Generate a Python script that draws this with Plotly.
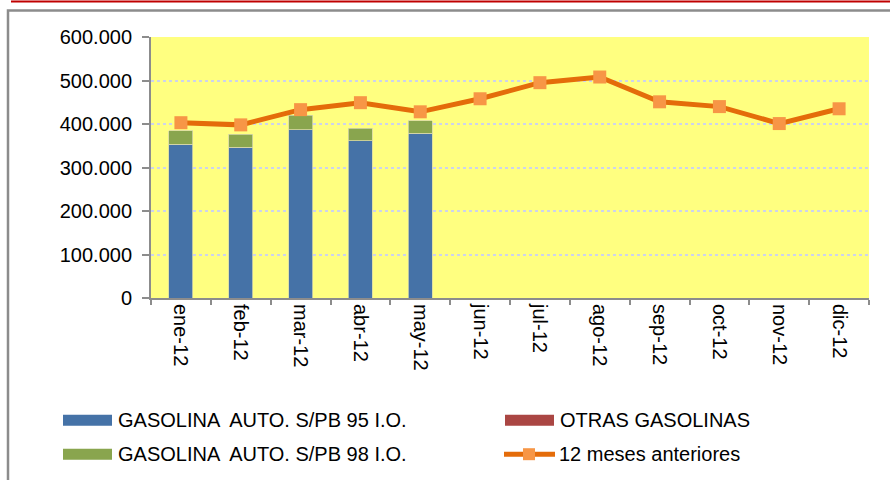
import plotly.graph_objects as go

# Monthly sales data (m3), 2012 vs previous 12 months
months = ["ene-12", "feb-12", "mar-12", "abr-12", "may-12", "jun-12",
          "jul-12", "ago-12", "sep-12", "oct-12", "nov-12", "dic-12"]
gasolina_95 = [354000, 347000, 387000, 361000, 379000]
gasolina_98 = [31000, 29000, 33000, 29000, 29000]
otras_gasolinas = [0, 0, 0, 0, 0]
meses_anteriores = [403000, 398000, 433000, 449000, 428000, 458000,
                    495000, 508000, 451000, 440000, 401000, 435000]

y_ticks = [0, 100000, 200000, 300000, 400000, 500000, 600000]

C_95 = "#4572A7"
C_98 = "#89A54E"
C_OTRAS = "#AA4643"
C_LINE = "#E46C0A"
C_MARK = "#F79646"
FONT = "Liberation Sans, Arial, sans-serif"
FS = 20

# plot area in pixels
W, H = 890, 480
PL, PR, PT, PB = 151, 869, 36.5, 298

fig = go.Figure()
bar_line = dict(color="#D8D8A8", width=0.8)
fig.add_trace(go.Bar(x=months[:len(gasolina_95)], y=gasolina_95,
                     marker=dict(color=C_95, line=bar_line),
                     name="GASOLINA  AUTO. S/PB 95 I.O."))
fig.add_trace(go.Bar(x=months[:len(otras_gasolinas)], y=otras_gasolinas,
                     marker=dict(color=C_OTRAS, line=dict(width=0)),
                     name="OTRAS GASOLINAS"))
fig.add_trace(go.Bar(x=months[:len(gasolina_98)], y=gasolina_98,
                     marker=dict(color=C_98, line=bar_line),
                     name="GASOLINA  AUTO. S/PB 98 I.O."))
fig.add_trace(go.Scatter(x=months, y=meses_anteriores, mode="lines+markers",
                         line=dict(color=C_LINE, width=5),
                         marker=dict(symbol="square", size=13, color=C_MARK),
                         name="12 meses anteriores"))

fig.update_layout(
    width=W, height=H,
    margin=dict(l=PL, r=W - PR, t=PT, b=H - PB, pad=0),
    barmode="stack", bargap=0.6,
    plot_bgcolor="#FFFF80", paper_bgcolor="white",
    showlegend=False,
    separators=",.",
    font=dict(family=FONT, size=FS, color="#000000"),
)
fig.update_xaxes(
    type="category", categoryorder="array", categoryarray=months,
    range=[-0.5, len(months) - 0.5],
    showline=True, linecolor="#8C8C8C", linewidth=2,
    ticks="outside", tickson="boundaries", ticklen=5, tickcolor="#8C8C8C", tickwidth=1.5,
    tickangle=90, showgrid=False,
    tickfont=dict(family=FONT, size=FS),
)
fig.update_yaxes(
    range=[0, 600000], tickvals=y_ticks, tickformat=",.0f",
    showline=True, linecolor="#8C8C8C", linewidth=2,
    ticks="outside", ticklen=7, tickcolor="#8C8C8C", tickwidth=1.5,
    showgrid=True, gridcolor="#CDD3EC", gridwidth=2, griddash="dot",
    zeroline=False, ticklabelstandoff=6,
    tickfont=dict(family=FONT, size=FS),
)


def px_x(p):
    return (p - PL) / (PR - PL)


def px_y(p):
    return (PB - p) / (PB - PT)


shapes = []
annotations = []

# outer frame and top rule
shapes.append(dict(type="rect", xref="paper", yref="paper",
                   x0=px_x(8), x1=px_x(W + 10), y0=px_y(H + 10), y1=px_y(10),
                   line=dict(color="#8C8C8C", width=2.5), fillcolor="rgba(0,0,0,0)", layer="below"))
shapes.append(dict(type="line", xref="paper", yref="paper",
                   x0=px_x(11), x1=px_x(W), y0=px_y(1), y1=px_y(1),
                   line=dict(color="#C00000", width=2)))

# legend
legend_items = [
    ("bar", C_95, "GASOLINA  AUTO. S/PB 95 I.O.", 63, 420.5),
    ("bar", C_OTRAS, "OTRAS GASOLINAS", 505, 420.5),
    ("bar", C_98, "GASOLINA  AUTO. S/PB 98 I.O.", 63, 454.5),
    ("line", C_LINE, "12 meses anteriores", 504, 454.5),
]
for kind, color, label, x0, yc in legend_items:
    if kind == "bar":
        shapes.append(dict(type="rect", xref="paper", yref="paper",
                           x0=px_x(x0), x1=px_x(x0 + 49), y0=px_y(yc + 5.5), y1=px_y(yc - 5.5),
                           line=dict(width=0), fillcolor=color))
    else:
        shapes.append(dict(type="line", xref="paper", yref="paper",
                           x0=px_x(x0), x1=px_x(x0 + 51), y0=px_y(yc), y1=px_y(yc),
                           line=dict(color=C_LINE, width=5)))
        shapes.append(dict(type="rect", xref="paper", yref="paper",
                           x0=px_x(x0 + 19), x1=px_x(x0 + 31), y0=px_y(yc + 6), y1=px_y(yc - 6),
                           line=dict(width=0), fillcolor=C_MARK))
    annotations.append(dict(xref="paper", yref="paper", x=px_x(x0 + 53), y=px_y(yc),
                            xanchor="left", yanchor="middle", showarrow=False,
                            text=label, font=dict(family=FONT, size=FS, color="#000000")))

fig.update_layout(shapes=shapes, annotations=annotations)

fig.write_html("out.html")
